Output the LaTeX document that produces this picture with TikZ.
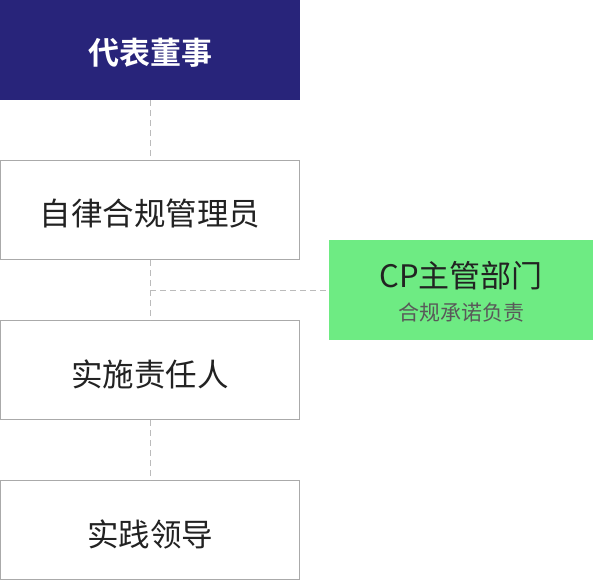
\documentclass[tikz,border=0pt]{standalone}
\usepackage{fontspec}
\newfontfamily\cjk{Noto Sans CJK SC}
\newfontfamily\cjkb{Noto Sans CJK SC Bold}
\definecolor{navy}{HTML}{28247A}
\definecolor{lgreen}{HTML}{6EEB83}
\definecolor{bordergray}{HTML}{AAAAAA}
\definecolor{dashgray}{HTML}{BBBBBB}
\definecolor{txt}{HTML}{222222}
\tikzset{
  box/.style={draw=bordergray, line width=1pt, fill=white, minimum width=299pt, minimum height=99pt, inner sep=0pt},
  boxtext/.style={inner sep=0pt, text=txt, font=\cjk\fontsize{31.5}{34}\selectfont},
  topbox/.style={fill=navy, minimum width=300pt, minimum height=100pt, inner sep=0pt},
  toptext/.style={inner sep=0pt, text=white, font=\cjkb\fontsize{31}{34}\selectfont},
  greenbox/.style={fill=lgreen, minimum width=264pt, minimum height=100pt, inner sep=0pt},
  gtitle/.style={inner sep=0pt, text=txt, font=\cjk\fontsize{31}{34}\selectfont},
  gsub/.style={inner sep=0pt, text=txt!75, font=\cjk\fontsize{21}{24}\selectfont},
  link/.style={draw=dashgray, line width=1pt, dash pattern=on 6pt off 4pt}
}
\begin{document}
\begin{tikzpicture}[x=1pt,y=-1pt]
\useasboundingbox (0,0) rectangle (593,580);
\node[topbox] (a) at (150,50) {};
\node[toptext] (at) at (150,53) {代表董事};
\node[box] (b) at (150,210) {};
\node[boxtext] (bt) at (150,214) {自律合规管理员};
\node[box] (c) at (150,370) {};
\node[boxtext] (ct) at (150,374) {实施责任人};
\node[box] (d) at (150,530) {};
\node[boxtext] (dt) at (150,534) {实践领导};
\node[greenbox] (g) at (461,290) {};
\node[gtitle] (gt) at (461,276) {CP主管部门};
\node[gsub] (gs) at (461,313) {合规承诺负责};
\coordinate (j) at (150,290);
\draw[link] (a.south) -- (b.north);
\draw[link] (b.south) -- (c.north);
\draw[link] (c.south) -- (d.north);
\draw[link] (j) -- (g.west);
\end{tikzpicture}
\end{document}
